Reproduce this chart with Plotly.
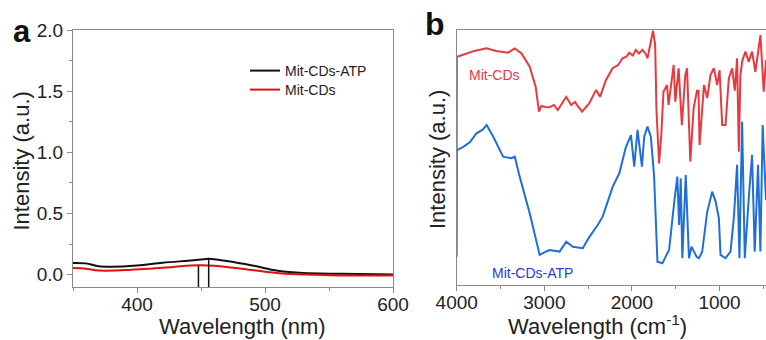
import plotly.graph_objects as go

# ---------------- Panel a: fluorescence/absorbance (nm) ----------------
a_wavelength = [350, 360, 370, 380, 400, 420, 440, 450, 456, 470, 490, 510, 530, 560, 600]
a_atp = [0.096, 0.093, 0.070, 0.066, 0.076, 0.098, 0.115, 0.124, 0.130, 0.112, 0.076, 0.033, 0.014, 0.008, 0.002]
a_cds_wavelength = [350, 360, 370, 390, 410, 430, 448, 460, 480, 500, 520, 550, 600]
a_cds = [0.055, 0.050, 0.035, 0.038, 0.050, 0.066, 0.077, 0.074, 0.052, 0.025, 0.006, -0.003, -0.006]
a_peak_nm = [448, 456]
a_peak_top = [0.077, 0.130]

# ---------------- Panel b: FTIR (cm-1) ----------------
b_cds_wn = [4000, 3998, 3900, 3800, 3659, 3550, 3414, 3338, 3262, 3167, 3099, 3061, 3034, 2990,
            2940, 2890, 2846, 2800, 2750, 2694, 2650, 2619, 2569, 2486, 2409, 2364, 2296, 2221,
            2160, 2107, 2060, 2031, 1990, 1955, 1920, 1880, 1840, 1823, 1800, 1759, 1735, 1720,
            1690, 1665, 1640, 1600, 1582, 1543, 1524, 1505, 1467, 1430, 1391, 1371, 1334, 1296,
            1258, 1240, 1228, 1178, 1141, 1103, 1065, 1027, 1000, 970, 932, 894, 856, 826, 800,
            780, 762, 740, 705, 667, 629, 591, 553, 534, 496, 470]
b_cds = [52.2, 89.5, 90.6, 91.8, 92.8, 91.8, 91.1, 92.8, 90.9, 85.6, 77.8, 68.0, 70.2, 69.8,
         69.7, 70.6, 68.6, 71.0, 73.8, 70.6, 71.8, 70.2, 68.0, 71.3, 76.5, 73.8, 80.4, 85.0,
         86.2, 88.9, 89.6, 91.1, 90.0, 92.2, 90.8, 92.2, 90.4, 88.9, 92.9, 99.7, 94.1, 68.6,
         47.7, 58.8, 75.8, 78.4, 70.6, 82.4, 86.3, 71.9, 85.0, 62.7, 82.4, 85.0, 48.4, 69.3,
         76.2, 76.2, 54.9, 78.4, 73.3, 82.4, 85.0, 78.4, 84.3, 62.7, 62.7, 81.1, 85.0, 76.2, 88.9,
         52.3, 82.4, 88.0, 91.5, 87.6, 91.5, 83.6, 94.1, 98.0, 75.8, 88.2]

b_atp_wn = [4000, 3998, 3925, 3850, 3773, 3700, 3659, 3584, 3470, 3375, 3337, 3281, 3167, 3073,
            3053, 3000, 2940, 2826, 2750, 2675, 2561, 2485, 2391, 2334, 2220, 2144, 2068, 2011,
            1974, 1936, 1886, 1860, 1823, 1784, 1747, 1709, 1652, 1610, 1576, 1519, 1482, 1462,
            1443, 1425, 1386, 1349, 1320, 1292, 1260, 1235, 1198, 1141, 1084, 1045, 1008, 989, 932,
            875, 837, 800, 773, 743, 712, 667, 629, 599, 561, 534, 508, 470]
b_atp = [11.1, 52.9, 54.2, 56.0, 59.5, 61.0, 62.7, 58.2, 50.3, 49.7, 50.3, 42.5, 28.1, 13.7,
         11.8, 12.8, 13.7, 13.1, 17.0, 15.0, 14.4, 18.9, 23.5, 26.8, 38.5, 43.8, 54.2, 58.8,
         46.4, 60.8, 46.4, 58.2, 62.1, 58.2, 42.5, 9.1, 8.5, 11.5, 13.7, 32.0, 42.5, 23.5,
         41.8, 10.5, 43.1, 10.5, 15.0, 13.1, 11.0, 10.5, 13.1, 28.7, 36.6, 32.7, 26.2, 11.8, 10.5,
         13.1, 26.2, 47.1, 10.5, 64.0, 10.5, 34.0, 51.0, 13.1, 47.1, 13.1, 62.7, 33.3]

label_a = "a"
label_b = "b"
name_atp = "Mit-CDs-ATP"
name_cds = "Mit-CDs"
title_x_a = "Wavelength (nm)"
title_x_b = "Wavelength (cm<sup>-1</sup>)"
title_y = "Intensity (a.u.)"

FONT = "Liberation Sans, Arial, sans-serif"
W, H = 766, 340

def px_x(p):
    return p / W

def px_y(p):
    return 1 - p / H

fig = go.Figure()

# Panel a traces
fig.add_trace(go.Scatter(x=a_wavelength, y=a_atp, mode="lines", name=name_atp,
                         line=dict(color="#111111", width=2, shape="spline"),
                         xaxis="x", yaxis="y", legend="legend"))
fig.add_trace(go.Scatter(x=a_cds_wavelength, y=a_cds, mode="lines", name=name_cds,
                         line=dict(color="#e01010", width=2, shape="spline"),
                         xaxis="x", yaxis="y", legend="legend2"))
for p, t in zip(a_peak_nm, a_peak_top):
    fig.add_trace(go.Scatter(x=[p, p], y=[t, -0.1], mode="lines", showlegend=False,
                             line=dict(color="#111111", width=1.5),
                             xaxis="x", yaxis="y", hoverinfo="skip"))

# Panel b traces
fig.add_trace(go.Scatter(x=b_cds_wn, y=b_cds, mode="lines", showlegend=False,
                         line=dict(color="#e8393f", width=2), xaxis="x2", yaxis="y2"))
fig.add_trace(go.Scatter(x=b_atp_wn, y=b_atp, mode="lines", showlegend=False,
                         line=dict(color="#1f6fd6", width=2), xaxis="x2", yaxis="y2"))

axis_line = "#8a8a8a"
tickfont = dict(family=FONT, size=19, color="#222222")
legfont = dict(family=FONT, size=14, color="#222222")

fig.update_layout(
    width=W, height=H,
    margin=dict(l=0, r=0, t=0, b=0, autoexpand=False),
    paper_bgcolor="white", plot_bgcolor="white",
    font=dict(family=FONT, color="#222222"),
    xaxis=dict(domain=[px_x(73), px_x(393)], range=[350, 600], anchor="y", automargin=False,
               showline=True, linecolor=axis_line, linewidth=1, mirror=True,
               showgrid=False, zeroline=False,
               tickvals=[400, 500, 600], ticks="outside", ticklen=5, tickcolor=axis_line,
               minor=dict(tickvals=[350, 450, 550], ticks="outside", ticklen=3, tickcolor=axis_line),
               tickfont=tickfont, ticklabelstandoff=-5),
    yaxis=dict(domain=[px_y(287), px_y(30)], range=[-0.1, 2.0], anchor="x", automargin=False,
               showline=True, linecolor=axis_line, linewidth=1, mirror=True,
               showgrid=False, zeroline=False,
               tickvals=[0, 0.5, 1.0, 1.5, 2.0], ticktext=["0.0", "0.5", "1.0", "1.5", "2.0"],
               ticks="outside", ticklen=5, tickcolor=axis_line,
               minor=dict(tickvals=[0.25, 0.75, 1.25, 1.75], ticks="outside", ticklen=3, tickcolor=axis_line),
               tickfont=tickfont),
    xaxis2=dict(domain=[px_x(456.7), 1.0], range=[4000, 470], anchor="y2", automargin=False,
                showline=True, linecolor=axis_line, linewidth=1, mirror=True,
                showgrid=False, zeroline=False,
                tickvals=[4000, 3000, 2000, 1000], ticks="outside", ticklen=5, tickcolor=axis_line,
                minor=dict(tickvals=[3500, 2500, 1500, 500], ticks="outside", ticklen=3, tickcolor=axis_line),
                tickfont=tickfont, ticklabelstandoff=-5),
    yaxis2=dict(domain=[px_y(285), px_y(30)], range=[0, 100], anchor="x2", automargin=False,
                showline=True, linecolor=axis_line, linewidth=1, mirror=False,
                showgrid=False, zeroline=False, showticklabels=False, ticks=""),
    legend=dict(x=px_x(245), y=px_y(71), xanchor="left", yanchor="middle",
                bgcolor="rgba(0,0,0,0)", font=legfont, itemwidth=30),
    legend2=dict(x=px_x(245), y=px_y(90), xanchor="left", yanchor="middle",
                 bgcolor="rgba(0,0,0,0)", font=legfont, itemwidth=30),
    showlegend=True,
)

def text(t, x, y, size, color="#222222", angle=0, bold=False, xanchor="center"):
    fig.add_annotation(text=t, xref="paper", yref="paper", x=px_x(x), y=px_y(y),
                       xanchor=xanchor, yanchor="middle", showarrow=False, textangle=angle,
                       font=dict(family=FONT, size=size, color=color,
                                 weight="bold" if bold else "normal"))

text(label_a, 11, 31, 31, "#111111", bold=True, xanchor="left")
text(label_b, 423, 24, 32, "#111111", bold=True, xanchor="left")
text(title_x_a, 242.5, 326, 22)
text(title_x_b, 597, 325, 22)
text(title_y, 21, 161.5, 22, angle=-90)
text(title_y, 437, 160, 22, angle=-90)

fig.add_annotation(text=name_cds, xref="x2", yref="y2", x=3886, y=82.4,
                   xanchor="left", yanchor="middle", showarrow=False,
                   font=dict(family=FONT, size=14, color="#e8393f"))
fig.add_annotation(text=name_atp, xref="x2", yref="y2", x=3622, y=4.7,
                   xanchor="left", yanchor="middle", showarrow=False,
                   font=dict(family=FONT, size=14, color="#2a38d8"))

fig.write_html("out.html", config={"displayModeBar": False},
               post_script="document.body.style.margin='0px';document.body.style.overflow='hidden';")
